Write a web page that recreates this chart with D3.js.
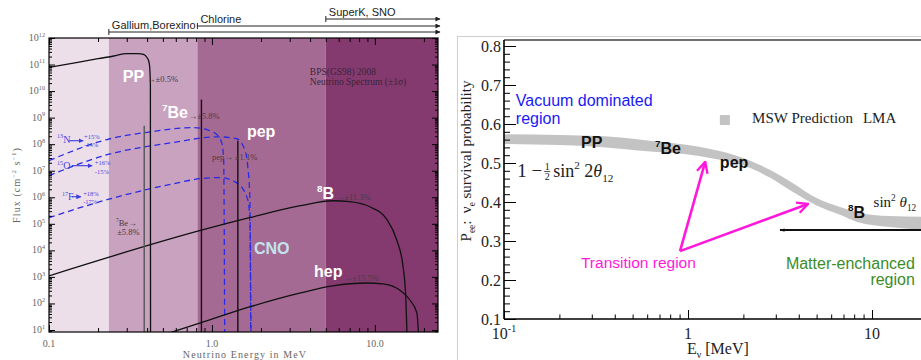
<!DOCTYPE html>
<html>
<head>
<meta charset="utf-8">
<script src="https://cdn.jsdelivr.net/npm/d3@7/dist/d3.min.js"></script>
<style>
  html, body { margin: 0; padding: 0; background: #fff; }
  svg { display: block; }
  text { white-space: pre; }
</style>
</head>
<body>
<svg id="chart" width="921" height="360"></svg>
<script>
// ---------- left panel data: BPS(GS98) 2008 solar neutrino spectrum ----------
const bandEdges = [0.1, 0.233, 0.814, 5.0, 24.4];
const bandColors = ["#ecdfe9", "#c8a2bf", "#a56a93", "#843a6f"];
const detectorNames = ["Gallium,Borexino", "Chlorine", "SuperK, SNO"];
const detectorThresholds = [0.233, 0.814, 5.0];

const ppE = [0.1, 0.15, 0.2, 0.25, 0.3, 0.35, 0.38, 0.40, 0.41, 0.415, 0.419, 0.42];
const ppFlux = [7.8e10, 1.2e11, 1.66e11, 2.1e11, 2.6e11, 2.6e11, 2.4e11, 1.8e11, 1.3e11, 7.8e10, 1.8e10, 1];

const b8E = [0.1, 0.84, 1.7, 3.5, 5.5, 7.0, 9.3, 11.9, 13.6, 14.9, 15.5, 15.9];
const b8Flux = [1.1e3, 5.5e4, 1.7e5, 4.8e5, 7.4e5, 6.8e5, 4.4e5, 1.4e5, 2.5e4, 2.4e3, 135, 1];

const hepE = [0.5, 0.84, 1.7, 3.5, 5.5, 8.9, 11.2, 14.2, 16.4, 18.1, 18.8];
const hepFlux = [6.5, 18, 74, 250, 460, 590, 550, 320, 135, 44, 1];

const n13E = [0.1, 0.227, 0.417, 0.764, 0.931, 1.07, 1.15, 1.18, 1.199];
const n13Flux = [2.4e7, 1.5e8, 2.9e8, 4.2e8, 3.5e8, 2.3e8, 1.1e8, 2.6e7, 1];

const o15E = [0.1, 0.227, 0.576, 1.07, 1.42, 1.59, 1.66, 1.71, 1.732];
const o15Flux = [6.5e6, 4e7, 1.15e8, 1.9e8, 1.6e8, 6.2e7, 1.4e7, 8.1e5, 1];

const f17E = [0.1, 0.227, 0.576, 0.844, 1.12, 1.42, 1.66, 1.71, 1.74];
const f17Flux = [1.7e5, 8.1e5, 3.2e6, 5e6, 5.5e6, 3.5e6, 8.1e5, 1.1e5, 1];

// mono-energetic lines: 7Be 384 keV, 7Be 862 keV, pep
const lineE = [0.384, 0.862, 1.442];
const lineFlux = [5e8, 4.8e9, 1.35e8];
const lineColors = ["#555", "#111", "#111"];

const fluxTicks = d3.range(1, 13).map(p => Math.pow(10, p));
const energyTicks = [0.1, 1, 10];
const energyTickLabels = ["0.1", "1.0", "10.0"];

// ---------- right panel data: Pee survival probability (MSW-LMA band) ----------
const survE = [0.1, 0.2, 0.33, 0.6, 1.0, 1.32, 2.0, 2.8, 3.7, 5.0, 6.7, 8.3, 12.5, 20];
const survUpper = [0.574, 0.572, 0.569, 0.558, 0.546, 0.536, 0.513, 0.482, 0.449, 0.410, 0.387, 0.374, 0.364, 0.362];
const survLower = [0.549, 0.546, 0.541, 0.530, 0.522, 0.513, 0.494, 0.462, 0.426, 0.391, 0.367, 0.349, 0.336, 0.328];

const probTicks = [0.1, 0.2, 0.3, 0.4, 0.5, 0.6, 0.7, 0.8];
const probTickLabels = ["0.1", "0.2", "0.3", "0.4", "0.5", "0.6", "0.7", "0.8"];
const survETicks = [0.1, 1, 10];

// ---------- helpers ----------
const svg = d3.select("#chart");
const defs = svg.append("defs");

function rich(g, x, y, parts, size, attrs = {}) {
  const t = g.append("text").attr("x", x).attr("y", y).attr("font-size", size);
  for (const k in attrs) t.attr(k, attrs[k]);
  let cur = 0;
  parts.forEach(([s, mode]) => {
    const off = mode === "sup" ? -0.42 * size : mode === "sub" ? 0.28 * size : 0;
    const ts = t.append("tspan").attr("dy", off - cur).text(s);
    if (mode === "sup" || mode === "sub") ts.attr("font-size", 0.62 * size);
    if (mode === "it") ts.attr("font-style", "italic");
    cur = off;
  });
  return t;
}

function tickRow(g, axis, vals, size) {
  g.call(axis.tickValues(vals).tickSize(size).tickFormat(""))
    .call(s => s.select(".domain").remove())
    .call(s => s.selectAll(".tick line").attr("stroke", "#000"));
}

function logMinor(lo, hi) {
  const out = [];
  for (let p = Math.floor(Math.log10(lo)); p <= Math.ceil(Math.log10(hi)); p++) {
    for (let k = 2; k <= 9; k++) {
      const v = k * Math.pow(10, p);
      if (v > lo && v < hi) out.push(v);
    }
  }
  return out;
}

function addMarker(id, color, w, h, path, open) {
  const m = defs.append("marker").attr("id", id)
    .attr("viewBox", "0 0 12 12").attr("refX", 11).attr("refY", 6)
    .attr("markerWidth", w).attr("markerHeight", h)
    .attr("markerUnits", "userSpaceOnUse").attr("orient", "auto-start-reverse");
  const p = m.append("path").attr("d", path);
  if (open) p.attr("fill", "none").attr("stroke", color).attr("stroke-width", 2.2);
  else p.attr("fill", color);
}
addMarker("arrBlk", "#222", 6, 5, "M0,0L12,6L0,12z", false);
addMarker("arrBlue", "#3b3be0", 5, 5, "M0,0L12,6L0,12z", false);
addMarker("arrTiny", "#111", 5, 5, "M0,2L12,6L0,10z", false);
addMarker("chev", "#ff18dc", 13, 13, "M1,1L11,6L1,11", true);

// =================== LEFT PANEL ===================
const L = { x0: 49, x1: 438, y0: 38, y1: 332 };
const xL = d3.scaleLog().domain([0.1, 24.4]).range([L.x0, L.x1]);
const yL = d3.scaleLog().domain([Math.pow(10, 0.9245), 1e12]).range([L.y1, L.y0]);

defs.append("clipPath").attr("id", "clipL").append("rect")
  .attr("x", L.x0).attr("y", L.y0).attr("width", L.x1 - L.x0).attr("height", L.y1 - L.y0);

const gL = svg.append("g");

gL.selectAll("rect.band").data(bandColors).join("rect").attr("class", "band")
  .attr("x", (d, i) => xL(bandEdges[i]))
  .attr("y", L.y0)
  .attr("width", (d, i) => xL(bandEdges[i + 1]) - xL(bandEdges[i]))
  .attr("height", L.y1 - L.y0)
  .attr("fill", d => d);

// detector threshold brackets above the plot
const detY = [32, 26, 19];
detectorThresholds.forEach((t, i) => {
  const x0 = xL(t), y0 = detY[i];
  gL.append("line").attr("x1", x0).attr("x2", L.x1 + 2).attr("y1", y0).attr("y2", y0)
    .attr("stroke", "#222").attr("stroke-width", 1).attr("marker-end", "url(#arrBlk)");
  gL.append("line").attr("x1", x0).attr("x2", x0).attr("y1", y0 - 3).attr("y2", y0 + 3)
    .attr("stroke", "#222").attr("stroke-width", 1);
  gL.append("text").attr("x", x0 + 3).attr("y", y0 - 3)
    .attr("font-family", "Liberation Sans, Arial, sans-serif").attr("font-size", 11)
    .attr("fill", "#222").text(detectorNames[i]);
});

const plotL = gL.append("g").attr("clip-path", "url(#clipL)");
const lineL = d3.line().x(d => xL(d[0])).y(d => yL(d[1])).curve(d3.curveMonotoneX);
const spectra = [
  { E: n13E, F: n13Flux, color: "#2b2be6", dash: "6,4" },
  { E: o15E, F: o15Flux, color: "#2b2be6", dash: "6,4" },
  { E: f17E, F: f17Flux, color: "#2b2be6", dash: "6,4" },
  { E: ppE, F: ppFlux, color: "#111", dash: null },
  { E: b8E, F: b8Flux, color: "#111", dash: null },
  { E: hepE, F: hepFlux, color: "#111", dash: null }
];
plotL.selectAll("path.spec").data(spectra).join("path").attr("class", "spec")
  .attr("d", d => lineL(d.E.map((e, i) => [e, d.F[i]])))
  .attr("fill", "none")
  .attr("stroke", d => d.color)
  .attr("stroke-width", 1.3)
  .attr("stroke-dasharray", d => d.dash);

plotL.selectAll("line.mono").data(lineE).join("line").attr("class", "mono")
  .attr("x1", d => xL(d)).attr("x2", d => xL(d))
  .attr("y1", (d, i) => yL(lineFlux[i])).attr("y2", L.y1)
  .attr("stroke", (d, i) => lineColors[i]).attr("stroke-width", 1.4);

// ticks, inward on all four sides
const yMinorL = logMinor(yL.domain()[0], 1e12);
const xMinorL = logMinor(0.1, 24.4);
tickRow(gL.append("g").attr("transform", `translate(${L.x0},0)`), d3.axisLeft(yL), fluxTicks, -6);
tickRow(gL.append("g").attr("transform", `translate(${L.x0},0)`), d3.axisLeft(yL), yMinorL, -3);
tickRow(gL.append("g").attr("transform", `translate(${L.x1},0)`), d3.axisRight(yL), fluxTicks, -6);
tickRow(gL.append("g").attr("transform", `translate(${L.x1},0)`), d3.axisRight(yL), yMinorL, -3);
tickRow(gL.append("g").attr("transform", `translate(0,${L.y1})`), d3.axisBottom(xL), energyTicks, -7);
tickRow(gL.append("g").attr("transform", `translate(0,${L.y1})`), d3.axisBottom(xL), xMinorL, -4);
tickRow(gL.append("g").attr("transform", `translate(0,${L.y0})`), d3.axisTop(xL), energyTicks, -7);
tickRow(gL.append("g").attr("transform", `translate(0,${L.y0})`), d3.axisTop(xL), xMinorL, -4);

gL.append("rect").attr("x", L.x0).attr("y", L.y0)
  .attr("width", L.x1 - L.x0).attr("height", L.y1 - L.y0)
  .attr("fill", "none").attr("stroke", "#000").attr("stroke-width", 1.2);

const serifL = { "font-family": "Liberation Serif, Times New Roman, serif", fill: "#666" };
fluxTicks.forEach(v => {
  rich(gL, L.x0 - 4, yL(v) + 3, [["10"], [String(Math.round(Math.log10(v))), "sup"]], 10, serifL)
    .attr("text-anchor", "end");
});
gL.selectAll("text.xtl").data(energyTicks).join("text").attr("class", "xtl")
  .attr("x", d => xL(d)).attr("y", 347).attr("text-anchor", "middle")
  .attr("font-family", serifL["font-family"]).attr("font-size", 10).attr("fill", "#666")
  .text((d, i) => energyTickLabels[i]);
gL.append("text").attr("x", 245).attr("y", 358).attr("text-anchor", "middle")
  .attr("font-family", serifL["font-family"]).attr("font-size", 10).attr("fill", "#666")
  .attr("letter-spacing", 1.1).text("Neutrino Energy in MeV");
rich(gL, 0, 0, [["Flux (cm"], ["−2", "sup"], [" s"], ["−1", "sup"], [")"]], 10, serifL)
  .attr("letter-spacing", 1.1).attr("text-anchor", "middle")
  .attr("transform", "translate(20,185) rotate(-90)");

// uncertainty notes and source names
const small = { "font-family": "Liberation Serif, Times New Roman, serif", fill: "#4a3a46" };
const errLabels = [
  { t: "→±0.5%", e: 0.40, lf: 10.36 },
  { t: "→±5.8%", e: 0.72, lf: 8.96 },
  { t: "pep→ ±1.1%", e: 1.0, lf: 7.415 },
  { t: "→±11.3%", e: 5.75, lf: 5.906 },
  { t: "→±15.5%", e: 6.45, lf: 2.85 },
  { t: "±5.8%", e: 0.262, lf: 4.585 }
];
errLabels.forEach(d => {
  gL.append("text").attr("x", xL(d.e)).attr("y", yL(Math.pow(10, d.lf)))
    .attr("font-size", 8.5).attr("font-family", small["font-family"]).attr("fill", small.fill)
    .text(d.t);
});
rich(gL, xL(0.258), yL(Math.pow(10, 4.92)), [["7", "sup"], ["Be→"]], 8.5, small);
gL.append("text").attr("x", xL(3.99)).attr("y", yL(Math.pow(10, 10.62)))
  .attr("font-size", 9.5).attr("font-family", small["font-family"]).attr("fill", "#3a2538")
  .text("BPS(GS98) 2008");
gL.append("text").attr("x", xL(3.99)).attr("y", yL(Math.pow(10, 10.245)))
  .attr("font-size", 9.5).attr("font-family", small["font-family"]).attr("fill", "#3a2538")
  .text("Neutrino Spectrum (±1σ)");

const cnoLabels = [
  { mass: "13", el: "N", e: 0.112, lf: 8.06, a0: 0.133, a1: 0.162, alf: 8.13, pe: 0.164, up: "+15%", dn: "-14%", ulf: 8.21, dlf: 7.9 },
  { mass: "15", el: "O", e: 0.112, lf: 7.075, a0: 0.138, a1: 0.184, alf: 7.19, pe: 0.191, up: "+16%", dn: "-15%", ulf: 7.23, dlf: 6.89 },
  { mass: "17", el: "F", e: 0.120, lf: 5.905, a0: 0.138, a1: 0.157, alf: 6.02, pe: 0.162, up: "+18%", dn: "-17%", ulf: 6.06, dlf: 5.75 }
];
const blueTxt = { "font-family": "Liberation Serif, Times New Roman, serif", fill: "#4747e0" };
cnoLabels.forEach(d => {
  rich(gL, xL(d.e), yL(Math.pow(10, d.lf)), [[d.mass, "sup"], [d.el]], 10, blueTxt);
  gL.append("line").attr("x1", xL(d.a0)).attr("x2", xL(d.a1))
    .attr("y1", yL(Math.pow(10, d.alf))).attr("y2", yL(Math.pow(10, d.alf)))
    .attr("stroke", "#3b3be0").attr("stroke-width", 1.1).attr("marker-end", "url(#arrBlue)");
  [[d.up, d.ulf], [d.dn, d.dlf]].forEach(([s, lf]) => {
    gL.append("text").attr("x", xL(d.pe)).attr("y", yL(Math.pow(10, lf)))
      .attr("font-size", 6.5).attr("font-family", blueTxt["font-family"]).attr("fill", blueTxt.fill)
      .text(s);
  });
});

// big white labels
const bold = { "font-family": "Liberation Sans, Arial, sans-serif", "font-weight": "bold", fill: "#fff" };
const whiteLabels = [
  { parts: [["PP"]], e: 0.284, lf: 10.36 },
  { parts: [["7", "sup"], ["Be"]], e: 0.493, lf: 9.0 },
  { parts: [["pep"]], e: 1.64, lf: 8.28 },
  { parts: [["8", "sup"], ["B"]], e: 4.41, lf: 5.94 },
  { parts: [["hep"]], e: 4.23, lf: 3.0 }
];
whiteLabels.forEach(d => rich(gL, xL(d.e), yL(Math.pow(10, d.lf)), d.parts, 16, bold));
gL.append("text").attr("x", xL(1.81)).attr("y", yL(Math.pow(10, 3.87)))
  .attr("font-family", bold["font-family"]).attr("font-weight", "bold")
  .attr("font-size", 16).attr("fill", "#c4e2ec").text("CNO");

// =================== RIGHT PANEL ===================
const R = { x0: 504, x1: 921, y0: 40, y1: 319 };
const xR = d3.scaleLog().domain([0.1, 100]).range([R.x0, 1056]);
const yR = d3.scaleLinear().domain([0.1, 0.8154]).range([R.y1, R.y0]);
const gR = svg.append("g");

gR.append("rect").attr("x", 457.5).attr("y", 36.5).attr("width", 500).attr("height", 340)
  .attr("fill", "none").attr("stroke", "#cfcfcf").attr("stroke-width", 1);

const survData = survE.map((e, i) => ({ e, hi: survUpper[i], lo: survLower[i] }));
gR.append("path").datum(survData)
  .attr("d", d3.area().x(d => xR(d.e)).y0(d => yR(d.lo)).y1(d => yR(d.hi)).curve(d3.curveMonotoneX))
  .attr("fill", "#c3c3c3");

const probMinor = d3.range(11, 81).filter(v => v % 2 === 0 && v % 10 !== 0).map(v => v / 100);
tickRow(gR.append("g").attr("transform", `translate(${R.x0},0)`), d3.axisLeft(yR), probTicks, -12);
tickRow(gR.append("g").attr("transform", `translate(${R.x0},0)`), d3.axisLeft(yR), probMinor, -6);
tickRow(gR.append("g").attr("transform", `translate(0,${R.y1})`), d3.axisBottom(xR), survETicks, -9);
tickRow(gR.append("g").attr("transform", `translate(0,${R.y1})`), d3.axisBottom(xR), logMinor(0.1, 30), -4.5);

gR.append("line").attr("x1", R.x0).attr("x2", R.x1).attr("y1", R.y0).attr("y2", R.y0)
  .attr("stroke", "#707070").attr("stroke-width", 1.8);
gR.append("line").attr("x1", R.x0).attr("x2", R.x0).attr("y1", R.y0).attr("y2", R.y1)
  .attr("stroke", "#000").attr("stroke-width", 1.6);
gR.append("line").attr("x1", R.x0).attr("x2", R.x1).attr("y1", R.y1).attr("y2", R.y1)
  .attr("stroke", "#000").attr("stroke-width", 1.6);

const serifR = { "font-family": "Liberation Serif, Times New Roman, serif", fill: "#222" };
gR.selectAll("text.ytl").data(probTicks).join("text").attr("class", "ytl")
  .attr("x", R.x0 - 3).attr("y", d => yR(d) + 5.5).attr("text-anchor", "end")
  .attr("font-family", serifR["font-family"]).attr("font-size", 16).attr("fill", "#222")
  .text((d, i) => probTickLabels[i]);
rich(gR, xR(0.1), 339, [["10"], ["-1", "sup"]], 16, serifR).attr("text-anchor", "middle");
rich(gR, xR(1), 339, [["1"]], 16, serifR).attr("text-anchor", "middle");
rich(gR, xR(10), 339, [["10"]], 16, serifR).attr("text-anchor", "middle");
rich(gR, 687, 354, [["E"], ["ν", "sub"], [" [MeV]"]], 16, serifR);
rich(gR, 0, 0, [["P"], ["ee", "sub"], [":  "], ["ν"], ["e", "sub"], [" survival probability"]], 15, serifR)
  .attr("text-anchor", "middle").attr("transform", "translate(471,161) rotate(-90)");

// legend
gR.append("rect").attr("x", xR(1.49)).attr("y", yR(0.623)).attr("width", 10).attr("height", 10)
  .attr("fill", "#c3c3c3");
gR.append("text").attr("x", xR(2.23)).attr("y", yR(0.603))
  .attr("font-family", serifR["font-family"]).attr("font-size", 15).attr("fill", "#222")
  .text("MSW Prediction");
gR.append("text").attr("x", xR(8.93)).attr("y", yR(0.603))
  .attr("font-family", serifR["font-family"]).attr("font-size", 15).attr("fill", "#222")
  .text("LMA");

// region notes
const sans = "Liberation Sans, Arial, sans-serif";
gR.append("text").attr("x", xR(0.116)).attr("y", yR(0.646))
  .attr("font-family", sans).attr("font-size", 16).attr("fill", "#1a1af5").text("Vacuum dominated");
gR.append("text").attr("x", xR(0.116)).attr("y", yR(0.600))
  .attr("font-family", sans).attr("font-size", 16).attr("fill", "#1a1af5").text("region");

const boldK = { "font-family": sans, "font-weight": "bold", fill: "#111" };
const sourceLabels = [
  { parts: [["PP"]], e: 0.262, p: 0.538 },
  { parts: [["7", "sup"], ["Be"]], e: 0.662, p: 0.523 },
  { parts: [["pep"]], e: 1.49, p: 0.487 },
  { parts: [["8", "sup"], ["B"]], e: 7.41, p: 0.359 }
];
sourceLabels.forEach(d => rich(gR, xR(d.e), yR(d.p), d.parts, 16, boldK));

// 1 - 1/2 sin^2 2theta12
const fx = xR(0.118), fy = yR(0.464);
const f1 = gR.append("text").attr("x", fx).attr("y", fy)
  .attr("font-family", serifR["font-family"]).attr("font-size", 19).attr("fill", "#222").text("1 −");
const w1 = f1.node().getComputedTextLength();
gR.append("text").attr("x", fx + w1 + 5).attr("y", fy - 7).attr("text-anchor", "middle")
  .attr("font-family", serifR["font-family"]).attr("font-size", 10).attr("fill", "#222").text("1");
gR.append("line").attr("x1", fx + w1 + 2).attr("x2", fx + w1 + 8).attr("y1", fy - 5.5).attr("y2", fy - 5.5)
  .attr("stroke", "#222").attr("stroke-width", 0.8);
gR.append("text").attr("x", fx + w1 + 5).attr("y", fy + 3).attr("text-anchor", "middle")
  .attr("font-family", serifR["font-family"]).attr("font-size", 10).attr("fill", "#222").text("2");
rich(gR, fx + w1 + 11, fy, [["sin"], ["2", "sup"], [" 2"], ["θ", "it"], ["12", "sub"]], 18, serifR);
rich(gR, xR(10.2), yR(0.387), [["sin"], ["2", "sup"], [" "], ["θ", "it"], ["12", "sub"]], 15, serifR);

// transition arrows
const transOrigin = [0.905, 0.274];
const transTips = [[1.24, 0.503], [4.49, 0.395]];
transTips.forEach(t => {
  gR.append("line").attr("x1", xR(transOrigin[0])).attr("y1", yR(transOrigin[1]))
    .attr("x2", xR(t[0])).attr("y2", yR(t[1]))
    .attr("stroke", "#ff18dc").attr("stroke-width", 2.6).attr("marker-end", "url(#chev)");
});
gR.append("text").attr("x", xR(0.262)).attr("y", yR(0.231))
  .attr("font-family", sans).attr("font-size", 15.5).attr("fill", "#ff18dc").text("Transition region");

// matter region
gR.append("line").attr("x1", xR(3.16)).attr("x2", xR(40)).attr("y1", yR(0.328)).attr("y2", yR(0.328))
  .attr("stroke", "#111").attr("stroke-width", 2).attr("marker-start", "url(#arrTiny)");
gR.append("text").attr("x", xR(17.1)).attr("y", yR(0.228)).attr("text-anchor", "end")
  .attr("font-family", sans).attr("font-size", 16).attr("fill", "#3c8c28").text("Matter-enchanced");
gR.append("text").attr("x", xR(17.1)).attr("y", yR(0.187)).attr("text-anchor", "end")
  .attr("font-family", sans).attr("font-size", 16).attr("fill", "#3c8c28").text("region");
</script>
</body>
</html>
